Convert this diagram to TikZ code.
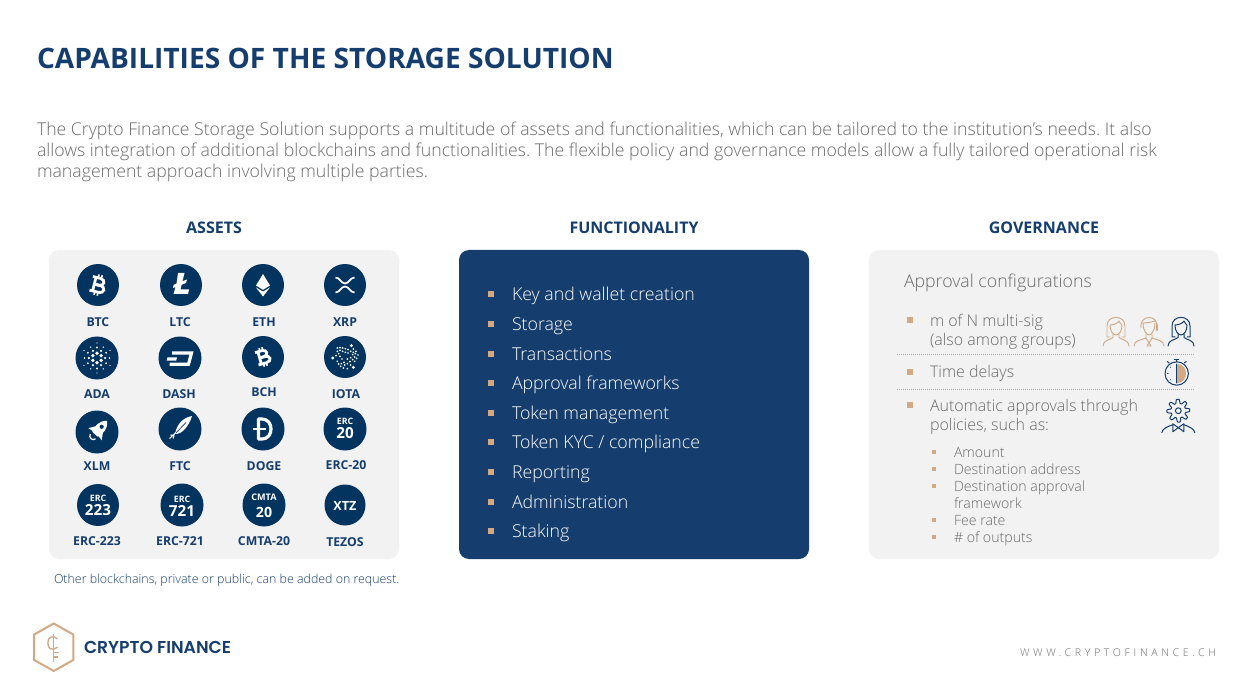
\documentclass[tikz,border=0pt]{standalone}
\usepackage{fontspec}
\setmainfont{Open Sans}
\newfontfamily\oslight{Open Sans Light}
\newfontfamily\osbold{Open Sans}[UprightFont=* Bold]
\IfFontExistsTF{Poppins SemiBold}{\newfontfamily\logofont{Poppins SemiBold}}{\newfontfamily\logofont{Poppins}[UprightFont=* Bold]}
\newfontfamily\webfont{Open Sans Light}[LetterSpace=34]
\definecolor{navy}{HTML}{153D6E}
\definecolor{coin}{HTML}{03335F}
\definecolor{greytxt}{HTML}{6A6A6A}
\definecolor{tan}{HTML}{D2A984}
\definecolor{panel}{HTML}{F2F2F2}
\definecolor{rulegrey}{HTML}{A8A8A8}
\tikzset{
  panelbox/.style={fill=#1,rounded corners=7.5pt,draw=none},
  base/.style={inner sep=0pt,outer sep=0pt},
  coinlabel/.style={base,anchor=base,text=navy,font=\osbold\fontsize{9.2pt}{11pt}\selectfont},
  head/.style={base,anchor=base,text=navy,font=\osbold\fontsize{12pt}{14pt}\selectfont},
  fnline/.style={base,anchor=base west,text=white,font=\oslight\fontsize{13.3pt}{16pt}\selectfont},
  govline/.style={base,anchor=base west,text=greytxt,font=\oslight\fontsize{12pt}{14.3pt}\selectfont},
  subline/.style={base,anchor=base west,text=greytxt,font=\oslight\fontsize{10.6pt}{12.8pt}\selectfont},
  cointxt/.style={base,text=white,font=\osbold},
  ercsmall/.style={cointxt,font=\osbold\fontsize{6.6pt}{8pt}\selectfont},
  ercbig/.style={cointxt,font=\osbold\fontsize{11.4pt}{14pt}\selectfont},
  icow/.style={draw=white,line width=2.2pt},
  ico/.style={draw=navy,line width=0.75pt,line cap=round,line join=round},
  icot/.style={draw=tan,line width=0.7pt,line cap=round,line join=round},
  sep/.style={draw=rulegrey,line width=0.5pt,densely dotted},
}
\newcommand{\coinbg}[3]{\fill[coin] (#1,#2) circle (#3);}
\newcommand{\btcglyph}{%
  \draw[icow,line width=2.1pt] (-3.8,-7) -- (-3.8,7);
  \draw[icow,line width=2.1pt] (-7,-7) -- (1,-7) .. controls (6.5,-7) and (6.5,0) .. (1,0) -- (-3.8,0);
  \draw[icow,line width=2.1pt] (-3.8,0) -- (2,0) .. controls (8.5,0) and (8.5,7) .. (2,7) -- (-7,7);
  \draw[icow,line width=1.2pt] (-1.5,-10.5) -- (-1.5,-7) (1.8,-10.5) -- (1.8,-7) (-1.5,7) -- (-1.5,10.5) (1.8,7) -- (1.8,10.5);}
\newcommand{\womanicon}{%
  \draw (-6,21) -- (-9,21) -- (-9,10) .. controls (-9,-1.5) and (9,-1.5) .. (9,10) -- (9,21) -- (6,21);
  \draw (-6,9) .. controls (-2,9) and (2,7) .. (3,5) .. controls (4,7) and (5,8.5) .. (6,9) .. controls (6.2,15.5) and (2.5,19) .. (0,19) .. controls (-2.5,19) and (-6.2,15.5) .. (-6,9);
  \draw (-3,18) -- (-3,21.5) .. controls (-6,24) and (-13,24) .. (-13,30);
  \draw (3,18) -- (3,21.5) .. controls (6,24) and (13,24) .. (13,30);}
\newcommand{\subbul}[2]{\fill[tan] (#1-2,#2-2) rectangle (#1+2,#2+2);}
\newcommand{\bul}[2]{\fill[tan] (#1-2.6,#2-2.6) rectangle (#1+2.6,#2+2.6);}
\begin{document}
\frenchspacing
\begin{tikzpicture}[x=0.75pt,y=-0.75pt]
\useasboundingbox[fill=white] (0,0) rectangle (1258,688);

% title and intro
\node[base,anchor=base west,text=navy,font=\osbold\fontsize{21.1pt}{26pt}\selectfont] (title) at (37,68.5) {CAPABILITIES OF THE STORAGE SOLUTION};
\node[base,anchor=north west,align=left,text=greytxt,font=\oslight\fontsize{13.26pt}{15.75pt}\selectfont] (intro) at (37,121.5) {The Crypto Finance Storage Solution supports a multitude of assets and functionalities, which can be tailored to the institution’s needs. It also\\allows integration of additional blockchains and functionalities. The flexible policy and governance models allow a fully tailored operational risk\\management approach involving multiple parties.};

% panels
\path[panelbox=panel] (49,250) rectangle (399,559);
\path[panelbox=navy] (459,250) rectangle (809,559);
\path[panelbox=panel] (869,250) rectangle (1219,559);
\node[head] (hassets) at (214,234) {ASSETS};
\node[head] (hfunc) at (634,234) {FUNCTIONALITY};
\node[head] (hgov) at (1044,234) {GOVERNANCE};

% coin labels
\node[coinlabel] (lbtc) at (98,326) {BTC};
\node[coinlabel] (lltc) at (180,326) {LTC};
\node[coinlabel] (leth) at (264,326) {ETH};
\node[coinlabel] (lxrp) at (345,326) {XRP};
\node[coinlabel] (lada) at (97,398) {ADA};
\node[coinlabel] (ldash) at (179,398) {DASH};
\node[coinlabel] (lbch) at (264,397) {BCH};
\node[coinlabel] (liota) at (346,398) {IOTA};
\node[coinlabel] (lxlm) at (97,470) {XLM};
\node[coinlabel] (lftc) at (180,470) {FTC};
\node[coinlabel] (ldoge) at (264,470) {DOGE};
\node[coinlabel] (lerc20) at (346,469) {ERC-20};
\node[coinlabel] (lerc223) at (97,545) {ERC-223};
\node[coinlabel] (lerc721) at (180,545) {ERC-721};
\node[coinlabel] (lcmta) at (264,545) {CMTA-20};
\node[coinlabel] (ltez) at (345,546) {TEZOS};

% BTC
\coinbg{98}{285}{21}
\begin{scope}[shift={(98,285)},rotate=-14] \btcglyph \end{scope}
% LTC
\coinbg{181}{285}{21}
\fill[white,shift={(181,285)}] (-3,-12) -- (3.5,-12) -- (1.5,-3.8) -- (6,-5.5) -- (5,-2) -- (0.6,-0.2) -- (-0.5,4.5) -- (8,4.5) -- (7,9) -- (-7.5,9) -- (-5.5,2) -- (-8,3) -- (-7.3,-0.2) -- (-4.5,-1.4) -- cycle;
% ETH
\coinbg{263}{285}{21}
\fill[white,shift={(263,285)}] (0,-11) -- (7,0.5) -- (0,4.8) -- (-7,0.5) -- cycle;
\fill[white,shift={(263,285)}] (-7,2.4) -- (0,6.6) -- (7,2.4) -- (0,11.5) -- cycle;
% XRP
\coinbg{345}{285}{21}
\draw[white,line width=1.3pt,shift={(345,285)}] (-9.5,-7.5) .. controls (-5,-7.5) and (-4,-1.5) .. (0,-1.5) .. controls (4,-1.5) and (5,-7.5) .. (9.5,-7.5);
\draw[white,line width=1.3pt,shift={(345,285)}] (-9.5,7.5) .. controls (-5,7.5) and (-4,1.5) .. (0,1.5) .. controls (4,1.5) and (5,7.5) .. (9.5,7.5);
% ADA
\coinbg{97}{358}{21.5}
\begin{scope}[shift={(97,358)}]
\foreach \a in {30,90,...,330} {\fill[white] (\a:4.8) circle (1.9);}
\foreach \a in {0,60,...,300} {\fill[white] (\a:8.2) circle (1.25);}
\foreach \a in {30,90,...,330} {\fill[white] (\a:10.5) circle (1.05);}
\foreach \a in {0,60,...,300} {\fill[white] (\a:12.5) circle (0.8);}
\foreach \a in {30,90,...,330} {\fill[white] (\a:15) circle (0.7);}
\end{scope}
% DASH
\coinbg{180}{358}{21.5}
\begin{scope}[shift={(180,358)}]
\draw[white,line width=2.4pt,line join=miter] (-8,-5) -- (11.5,-5) -- (8.5,6.2) -- (-10.5,6.2);
\fill[white] (-12.5,-0.6) -- (-3,-0.6) -- (-3.8,2.6) -- (-13.3,2.6) -- cycle;
\end{scope}
% BCH
\coinbg{263}{357}{21}
\begin{scope}[shift={(263,357)},rotate=16,scale=0.92] \btcglyph \end{scope}
% IOTA
\coinbg{345}{357}{21}
\foreach \x/\y in {52/45,60/44,68/45,76/47,84/50,92/55,100/48,108/55,114/66,106/62,100/58,110/76,104/72,98/65,104/85,98/80,92/74,82/107,92/96,70/105,62/100,56/93,52/85,48/68,56/62,52/55,60/52,68/55,76/58,84/60,60/70,66/78,72/88,82/92,90/86,82/78,64/92,74/96}{\fill[white] ({320+\x/3},{333+\y/3}) circle (0.95);}
\foreach \x/\y in {94/38,100/103,38/75}{\fill[white] ({320+\x/3},{333+\y/3}) circle (1.6);}
% XLM
\coinbg{97}{432}{21.5}
\begin{scope}[shift={(97,432)}]
\begin{scope}[rotate=-42]
\fill[white] (0,-15) .. controls (6,-10) and (6,-3) .. (3.6,3) -- (-3.6,3) .. controls (-6,-3) and (-6,-10) .. (0,-15) -- cycle;
\fill[white] (-4.8,-3.5) -- (-9,3) -- (-3.5,2) -- cycle;
\fill[white] (4.8,-3.5) -- (9,3) -- (3.5,2) -- cycle;
\fill[coin] (0,-7) circle (2.1);
\draw[white,line width=0.9pt] (-3.5,6) .. controls (-3,10) and (3,10) .. (3.5,6);
\end{scope}
\end{scope}
% FTC
\coinbg{180}{429}{21.5}
\begin{scope}[shift={(180,429)}]
\fill[white] (12,-13) .. controls (4,-11.5) and (-3,-6) .. (-5,5) .. controls (2,5.5) and (9,-3) .. (12,-13) -- cycle;
\draw[coin,line width=0.5pt] (-5,5) -- (6,-6.5);
\draw[white,line width=0.8pt] (-10.5,9.5) -- (-4,3.5) (-9.5,6) -- (-5.5,6.2) (-7,9.5) -- (-6,7);
\end{scope}
% DOGE
\coinbg{263}{429}{21.5}
\begin{scope}[shift={(263,429)}]
\draw[white,line width=2.4pt,line join=round] (-4.5,-10) -- (-1,-10) .. controls (11,-10) and (11,10) .. (-1,10) -- (-4.5,10) -- cycle;
\draw[white,line width=2pt] (-10,0) -- (2.5,0);
\end{scope}
% ERC-20
\coinbg{345}{429}{21.5}
\node[ercsmall] (e20a) at (345,421.5) {ERC};
\node[ercbig] (e20b) at (345,433.5) {20};
% ERC-223
\coinbg{98}{505}{21}
\node[ercsmall] (e223a) at (98,498.5) {ERC};
\node[ercbig] (e223b) at (98,510) {223};
% ERC-721
\coinbg{182}{505}{21.5}
\node[ercsmall] (e721a) at (182,499) {ERC};
\node[ercbig] (e721b) at (182,510.5) {721};
% CMTA-20
\coinbg{264}{505}{21.5}
\node[cointxt,font=\osbold\fontsize{6.8pt}{8pt}\selectfont] (cmtaa) at (264,497.5) {CMTA};
\node[cointxt,font=\osbold\fontsize{10.6pt}{12pt}\selectfont] (cmtab) at (264,512) {20};
% XTZ
\coinbg{345}{505}{20.5}
\node[cointxt,font=\osbold\fontsize{9.5pt}{11pt}\selectfont] (xtz) at (345,505.5) {XTZ};

\node[base,anchor=base west,text=navy,font=\oslight\fontsize{9.3pt}{10pt}\selectfont] (fn) at (54,583) {Other blockchains, private or public, can be added on request.};

% functionality
\foreach \n/\y/\t in {a/294/Key and wallet creation,b/324/Storage,c/354/Transactions,d/383/Approval frameworks,e/413/Token management,f/442/{Token KYC / compliance},g/472/Reporting,h/502/Administration,i/531/Staking}{
  \bul{491}{\y}
  \node[fnline] (fn\n) at (512,\y+6.5) {\t};
}

% governance
\node[base,anchor=base west,text=greytxt,font=\oslight\fontsize{13.3pt}{16pt}\selectfont] (gtitle) at (904,287) {Approval configurations};
\bul{910}{320}
\node[govline,align=left,anchor=north west] (g1) at (930,314) {m of N multi-sig\\(also among groups)};
\draw[sep] (897,354.5) -- (1195,354.5);
\bul{910}{372}
\node[govline] (g2) at (930,378) {Time delays};
\draw[sep] (897,389.5) -- (1195,389.5);
\bul{910}{405}
\node[govline,align=left,anchor=north west] (g3) at (930,399) {Automatic approvals through\\policies, such as:};
\foreach \n/\y/\t in {a/452/Amount,b/469/Destination address,c/486/Destination approval,e/520/Fee rate,f/537/\# of outputs}{
  \subbul{933.5}{\y}
  \node[subline] (s\n) at (954,\y+5) {\t};
}
\node[subline] (sd) at (954,508) {framework};

% person 1 (tan)
\begin{scope}[shift={(1116,316)},icot]
\womanicon
\end{scope}
% person 2 (tan)
\begin{scope}[shift={(1149,316)},icot]
\draw (-8,12) .. controls (-10,-2) and (10,-2) .. (8,12);
\draw (-6,7) .. controls (-2,7) and (3,6) .. (6,5);
\draw (-6,7) .. controls (-6,15) and (-2,19) .. (0,19) .. controls (2,19) and (6,15) .. (6,7);
\draw[line width=1.6pt] (8,9) -- (8,14);
\draw (-3,18) -- (-3,22) .. controls (-7,24) and (-15,24) .. (-15,30);
\draw (3,18) -- (3,22) .. controls (7,24) and (15,24) .. (15,30);
\draw (-3,22) -- (0,27) -- (3,22) (0,27) -- (-2,30) (0,27) -- (2,30) (-2,30) -- (2,30);
\end{scope}
% person 3 (navy)
\begin{scope}[shift={(1181,316)},ico]
\womanicon
\end{scope}
% stopwatch
\begin{scope}[shift={(1176.7,373.5)}]
\fill[tan] (0,-9.5) -- (0,9.5) .. controls (12.6,9.5) and (12.6,-9.5) .. (0,-9.5) -- cycle;
\draw[ico] (0,0) circle (11.7);
\draw[ico,line width=1.2pt,line cap=butt] (-2.7,-14) -- (2.7,-14);
\draw[ico] (0,-13.5) -- (0,-11.7) (7.5,-10.5) -- (9.5,-12) (-7.5,-10.5) -- (-9.5,-12);
\draw[ico] (0,-9.5) -- (0,9.5);
\draw[ico,line width=0.5pt] (-9.5,0) -- (-8.5,0) (-6.7,-6.7) -- (-6,-6) (-6.7,6.7) -- (-6,6);
\end{scope}
% gear with shoulders
\begin{scope}[shift={(1178.3,410.7)}]
\draw[ico] plot[domain=0:360,samples=145,variable=\t] ({(9.4+2*max(-1,min(1,1.6*cos(8*\t+22))))*cos(\t)},{(9.4+2*max(-1,min(1,1.6*cos(8*\t+22))))*sin(\t)});
\draw[ico] (0,0) circle (2.9);
\draw[ico] (-16.5,22) .. controls (-16,18) and (-11,16) .. (-5.5,14);
\draw[ico] (16.5,22) .. controls (16,18) and (11,16) .. (5.5,14);
\draw[ico] (-5.5,13) -- (5.5,21) -- (5.5,13) -- (-5.5,21) -- cycle;
\end{scope}

% footer
\draw[tan,line width=1.5pt,line join=miter] (53.7,623.5) -- (73.3,634.5) -- (73.3,660) -- (53.7,671) -- (34.2,660) -- (34.2,634.5) -- cycle;
\begin{scope}[shift={(53.5,643)}]
\draw[tan,line width=1pt] (4,-4) .. controls (-2,-9) and (-6,-5) .. (-5.6,0) .. controls (-6,5) and (-2,9) .. (4,4);
\draw[tan,line width=1pt] (0,-9) -- (0,18.5) (0,9.5) -- (5.5,9.5) (0,14) -- (4.5,14);
\end{scope}
\node[base,anchor=base west,text=navy,font=\logofont\fontsize{12.9pt}{14pt}\selectfont] (logo) at (84,653.5) {CRYPTO FINANCE};
\node[base,anchor=base east,text=greytxt,font=\webfont\fontsize{8pt}{10pt}\selectfont] (web) at (1216,656) {WWW.CRYPTOFINANCE.CH};
\end{tikzpicture}
\end{document}
